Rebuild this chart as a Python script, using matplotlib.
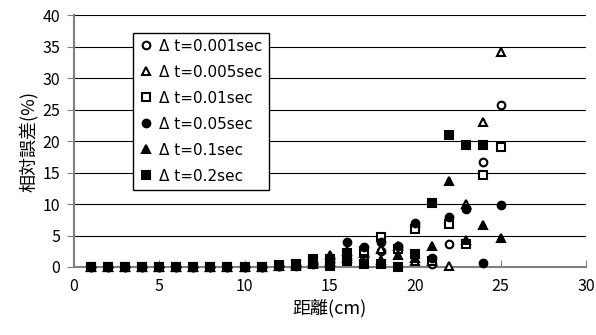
import matplotlib
matplotlib.use("Agg")
import matplotlib.pyplot as plt

plt.rcParams['font.family'] = ['Noto Sans CJK JP', 'DejaVu Sans']

# distance (cm)
x = list(range(1, 26))

# relative error (%) per time step
err_0001 = [0, 0, 0, 0, 0, 0, 0, 0, 0, 0, 0, 0.1, 0.2, 0.4, 0.8, 1.2, 1.8, 2.6, 3.0, 6.5, 0.5, 3.7, 9.2, 16.7, 25.8]
err_0005 = [0, 0, 0, 0, 0, 0, 0, 0, 0, 0, 0, 0.1, 0.2, 0.4, 0.9, 1.5, 2.2, 2.9, 3.3, 1.0, 0.9, 0.1, 10.0, 23.1, 34.1]
err_001 = [0, 0, 0, 0, 0, 0, 0, 0, 0, 0, 0, 0.1, 0.3, 0.6, 1.2, 2.2, 2.6, 4.8, 2.8, 6.1, 1.0, 6.8, 3.7, 14.6, 19.0]
err_005 = [0, 0, 0, 0, 0, 0, 0, 0, 0, 0, 0, 0.1, 0.3, 0.7, 1.5, 3.9, 3.2, 4.0, 3.3, 7.0, 1.4, 7.9, 9.3, 0.6, 9.9]
err_01 = [0, 0, 0, 0, 0, 0, 0, 0, 0, 0, 0, 0.2, 0.4, 0.9, 1.9, 2.5, 0.8, 1.1, 1.9, 1.5, 3.3, 13.6, 4.3, 6.6, 4.6]
err_02 = [0, 0, 0, 0, 0, 0, 0, 0, 0, 0, 0, 0.3, 0.5, 1.2, 0.1, 1.0, 0.5, 0.5, 0.0, 2.0, 10.1, 21.0, 19.4, 19.4, None]

labels = ["Δ t=0.001sec", "Δ t=0.005sec", "Δ t=0.01sec", "Δ t=0.05sec", "Δ t=0.1sec", "Δ t=0.2sec"]
series = [err_0001, err_0005, err_001, err_005, err_01, err_02]
markers = ["o", "^", "s", "o", "^", "s"]
filled = [False, False, False, True, True, True]

fig = plt.figure(figsize=(5.96, 3.35), dpi=100)
ax = fig.add_axes([0.124, 0.203, 0.859, 0.752])

for ys, lab, m, f in zip(series, labels, markers, filled):
    xs = [xi for xi, yi in zip(x, ys) if yi is not None]
    vs = [yi for yi in ys if yi is not None]
    ax.plot(xs, vs, linestyle="none", marker=m, markersize=5.5,
            markerfacecolor="black" if f else "white",
            markeredgecolor="black", markeredgewidth=1.5, label=lab, clip_on=False, zorder=3)

ax.set_xlim(0, 30)
ax.set_ylim(0, 40)
ax.set_xticks(range(0, 31, 5))
ax.set_yticks(range(0, 41, 5))
ax.yaxis.grid(True, color="black", linewidth=0.8)
ax.set_axisbelow(True)

for s in ["top", "right"]:
    ax.spines[s].set_visible(False)
for s in ["left", "bottom"]:
    ax.spines[s].set_color("#808080")
    ax.spines[s].set_linewidth(1.5)

ax.tick_params(axis="y", direction="out", length=5, color="#808080", labelsize=11.5, pad=5)
ax.tick_params(axis="x", direction="in", length=5, color="#808080", labelsize=11.5, pad=8)

ax.set_xlabel("距離(cm)", fontsize=13, labelpad=3)
ax.set_ylabel("相対誤差(%)", fontsize=13, labelpad=3)

leg = ax.legend(loc="upper left", bbox_to_anchor=(0.116, 0.93), borderaxespad=0,
                fancybox=False, edgecolor="black", framealpha=1,
                prop={"family": ["DejaVu Sans", "Noto Sans CJK JP"], "size": 11},
                labelspacing=0.72, handlelength=0.8, handletextpad=0.5, borderpad=0.4)
leg.get_frame().set_linewidth(1.0)

fig.savefig("out.png", dpi=100)
